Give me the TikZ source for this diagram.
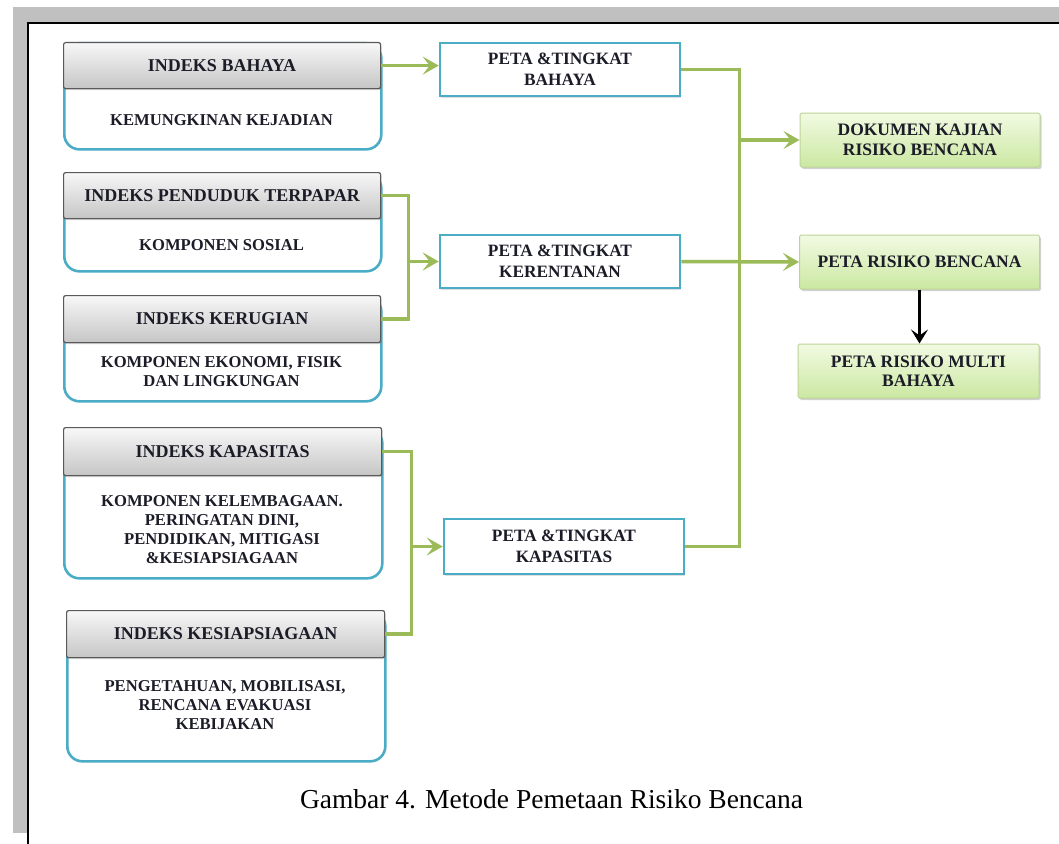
\documentclass[tikz,border=0pt]{standalone}
\usepackage{fontspec}
\setmainfont{Liberation Serif}
\usetikzlibrary{arrows.meta,shadows,calc}
\definecolor{cyanb}{HTML}{4BACC6}
\definecolor{grn}{HTML}{9BBB59}
\definecolor{frameg}{HTML}{C0C0C0}
\definecolor{txt}{HTML}{1C1C28}
\definecolor{gtop}{HTML}{F2FAE2}
\definecolor{gbot}{HTML}{CBE8A2}
\definecolor{gbord}{HTML}{BCD49A}
\begin{document}
\begin{tikzpicture}[x=1pt,y=-1pt,
  hdr/.style={draw=black!65, line width=1.2pt, rounded corners=2pt,
    top color=gray!6, bottom color=gray!45, inner sep=0pt,
    minimum height=46pt, anchor=north west, text=txt,
    font=\bfseries\fontsize{18}{20}\selectfont,
    drop shadow={shadow xshift=1pt, shadow yshift=-1.5pt, opacity=0.35}},
  bodybox/.style={draw=cyanb, line width=2.6pt, fill=white,
    rounded corners=15pt, inner sep=0pt, anchor=north west},
  btxt/.style={align=center, text=txt, inner sep=0pt,
    font=\bfseries\fontsize{16.6}{19}\selectfont},
  midbox/.style={draw=cyanb, line width=2.6pt, fill=white, inner sep=0pt,
    minimum width=240pt, minimum height=53pt, align=center, text=txt,
    font=\bfseries\fontsize{17.3}{21}\selectfont,
    drop shadow={shadow xshift=1pt, shadow yshift=-1.5pt, opacity=0.25}},
  resbox/.style={draw=gbord, line width=1pt, top color=gtop, bottom color=gbot,
    rounded corners=1.5pt, inner sep=0pt,
    minimum width=240pt, minimum height=54pt, align=center, text=txt,
    font=\bfseries\fontsize{17.5}{19.5}\selectfont,
    drop shadow={shadow xshift=1.5pt, shadow yshift=-2pt, opacity=0.35}},
  gline/.style={draw=grn, line width=3.5pt},
  garrow/.style={gline, -{Stealth[length=16pt,width=18pt,inset=7pt]}},
  barrow/.style={draw=black, line width=3pt, -{Stealth[length=14pt,width=17pt,inset=6pt]}}
]
\useasboundingbox (0,0) rectangle (1059,843);
% page frame
\fill[frameg] (13,7) rectangle (1080,833);
\filldraw[fill=white, draw=black, line width=2pt] (28,23) rectangle (1090,870);

% left index boxes
\node[bodybox, minimum width=317pt, minimum height=106pt] (b1) at (63,42) {};
\node[hdr, minimum width=317pt] (h1) at (63,42) {INDEKS BAHAYA};
\node[btxt] (t1) at (221.5,120) {KEMUNGKINAN KEJADIAN};

\node[bodybox, minimum width=317pt, minimum height=98pt] (b2) at (63,172) {};
\node[hdr, minimum width=317pt] (h2) at (63,172) {INDEKS PENDUDUK TERPAPAR};
\node[btxt] (t2) at (221.5,245) {KOMPONEN SOSIAL};

\node[bodybox, minimum width=317pt, minimum height=105pt] (b3) at (63,295) {};
\node[hdr, minimum width=317pt, minimum height=47pt] (h3) at (63,295) {INDEKS KERUGIAN};
\node[btxt] (t3) at (221.5,372) {KOMPONEN EKONOMI, FISIK\\DAN LINGKUNGAN};

\node[bodybox, minimum width=318pt, minimum height=150pt] (b4) at (63,427) {};
\node[hdr, minimum width=318pt, minimum height=48pt] (h4) at (63,427) {INDEKS KAPASITAS};
\node[btxt] (t4) at (222,530) {KOMPONEN KELEMBAGAAN.\\PERINGATAN DINI,\\PENDIDIKAN, MITIGASI\\\&KESIAPSIAGAAN};

\node[bodybox, minimum width=318pt, minimum height=150pt] (b5) at (66,610) {};
\node[hdr, minimum width=318pt, minimum height=47pt] (h5) at (66,610) {INDEKS KESIAPSIAGAAN};
\node[btxt] (t5) at (225,705) {PENGETAHUAN, MOBILISASI,\\RENCANA EVAKUASI\\KEBIJAKAN};

% middle map boxes
\node[midbox] (m1) at (560,69.5) {PETA \&TINGKAT\\BAHAYA};
\node[midbox] (m2) at (560,261.5) {PETA \&TINGKAT\\KERENTANAN};
\node[midbox, minimum height=55pt] (m3) at (564,546.5) {PETA \&TINGKAT\\KAPASITAS};

% result boxes
\node[resbox] (r1) at (920,140) {DOKUMEN KAJIAN\\RISIKO BENCANA};
\node[resbox] (r2) at (919.5,262) {PETA RISIKO BENCANA};
\node[resbox, minimum width=241pt] (r3) at (918.5,371) {PETA RISIKO MULTI\\BAHAYA};

% junctions
\coordinate (j1) at ($(m2.west)+(-30,0)$);
\coordinate (j2) at ($(m3.west)+(-31,0)$);
\coordinate (k1) at ($(r1.west)+(-60,0)$);

% connectors
\draw[garrow] (h1.east) -- (h1.east -| m1.west);
\draw[gline] (h2.east) -| (j1) |- (h3.east);
\draw[garrow] (j1) -- (m2.west);
\draw[gline] (h4.east) -| (j2) |- (h5.east);
\draw[garrow] (j2) -- (m3.west);
\draw[gline] (m1.east) -| (k1) |- (m3.east);
\draw[garrow] (k1) -- (r1.west);
\draw[garrow] (m2.east) -- (r2.west);
\draw[barrow] (r2.south) -- (r2.south |- r3.north);

% caption
\node[anchor=base, inner sep=0pt, text=black] (cap) at (551.5,808)
  {\resizebox{503pt}{19pt}{Gambar 4. Metode Pemetaan Risiko Bencana}};
\end{tikzpicture}
\end{document}
